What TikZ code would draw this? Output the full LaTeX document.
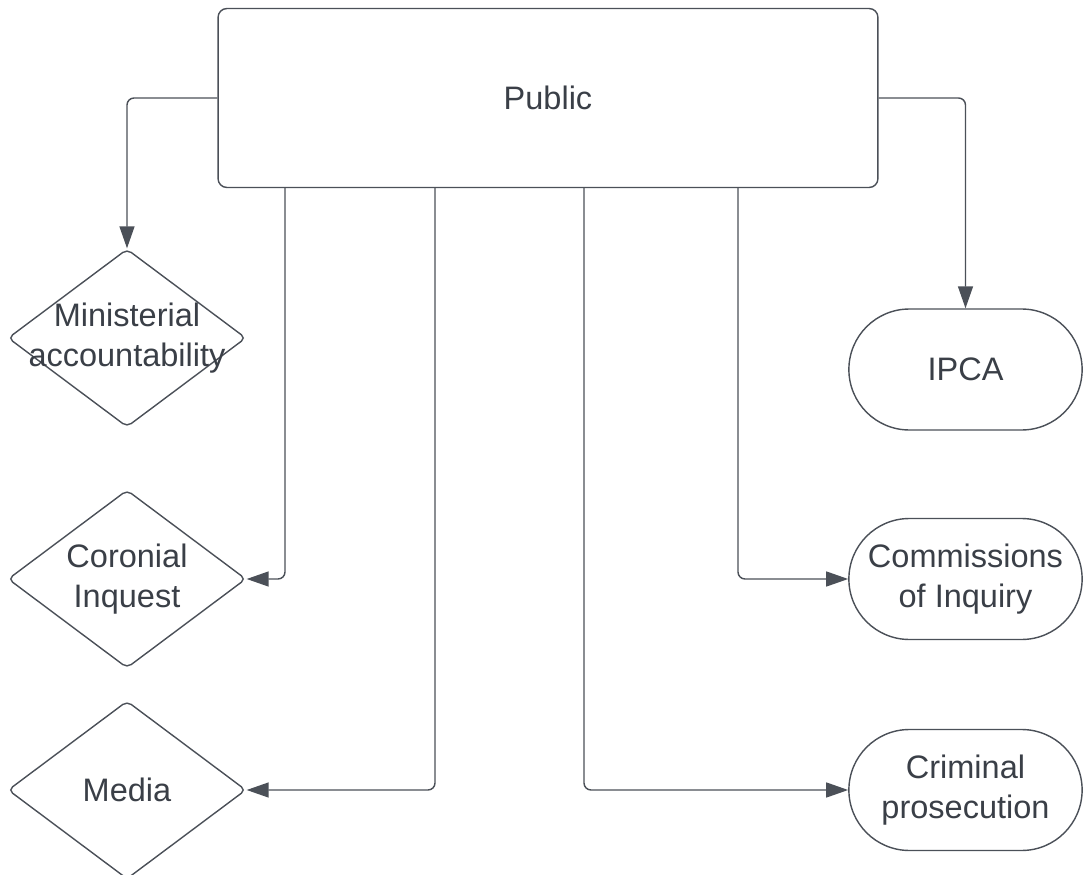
\documentclass[tikz,border=0pt]{standalone}
\usepackage{fontspec}
\setmainfont{Liberation Sans}
\usepackage{tikz}
\usetikzlibrary{shapes.geometric,shapes.misc,arrows.meta}
\definecolor{lineGrey}{HTML}{4B5058}
\definecolor{textGrey}{HTML}{3A3F47}

\begin{document}
\begin{tikzpicture}[
  x=0.02cm,y=-0.02cm,
  font=\fontsize{18.5}{22.5}\selectfont,
  topbox/.style={draw=lineGrey,line width=0.8pt,rounded corners=5pt,minimum width=13.2cm,minimum height=3.58cm,text=textGrey},
  diamondnode/.style={draw=lineGrey,line width=0.8pt,shape=diamond,inner sep=0pt,minimum width=4.76cm,minimum height=3.56cm,rounded corners=3pt},
  pillnode/.style={draw=lineGrey,line width=0.8pt,rounded rectangle,minimum width=4.9cm,minimum height=2.42cm,align=center,text=textGrey},
  ]
  \tikzset{%
    arrowline/.style={
      draw=lineGrey,
      line width=0.8pt,
      rounded corners=4pt,
      -{Triangle[length=4.4mm,width=3mm]},
    },
    in diamond/.style={
      align=center,
      text=textGrey,
    },
  }
  \useasboundingbox (0,0) rectangle (1083,875);
  %Nodes
  \node[topbox](pub) at (548,98){Public};
  \node[diamondnode,label={[in diamond]center:{Ministerial\\accountability}}](min) at (127,338){};
  \node[diamondnode,label={[in diamond]center:{Coronial\\Inquest}}](cor) at (127,579){};
  \node[diamondnode,label={[in diamond]center:Media}](med) at (127,790){};
  \node[pillnode](ipca) at (965.5,369.5){IPCA};
  \node[pillnode](com) at (965.5,579){Commissions\\of Inquiry};
  \node[pillnode](crim) at (965.5,790){Criminal\\prosecution};
  \coordinate (b1) at (285,188);
  \coordinate (b2) at (435,188);
  \coordinate (b3) at (584,188);
  \coordinate (b4) at (738,188);
  %Lines
  \draw[arrowline] (pub.west) -| (min.north);
  \draw[arrowline] (pub.east) -| (ipca.north);
  \draw[arrowline] (b1) |- (cor.east);
  \draw[arrowline] (b2) |- (med.east);
  \draw[arrowline] (b3) |- (crim.west);
  \draw[arrowline] (b4) |- (com.west);
\end{tikzpicture}
\end{document}
